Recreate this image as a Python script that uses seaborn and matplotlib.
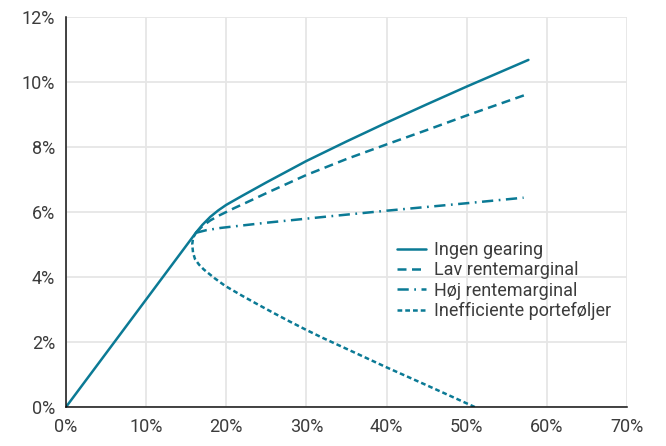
import matplotlib
matplotlib.use("Agg")
import matplotlib.pyplot as plt
import seaborn as sns
import pandas as pd
from matplotlib.ticker import FuncFormatter

# ---- data (risk %, return %) ----
ingen_x = [0.0, 16.2, 17.0, 18.0, 19.0, 20.0, 22.0, 25.0, 30.0, 35.0, 40.0, 45.0, 50.0, 57.7]
ingen_y = [0.0, 5.36, 5.60, 5.85, 6.05, 6.22, 6.50, 6.91, 7.57, 8.17, 8.75, 9.31, 9.86, 10.68]

lav_x = [16.2, 17.0, 18.0, 19.0, 20.0, 21.0, 22.5, 25.0, 30.0, 35.0, 40.0, 45.0, 50.0, 57.5]
lav_y = [5.36, 5.56, 5.74, 5.88, 6.00, 6.12, 6.29, 6.58, 7.14, 7.63, 8.08, 8.52, 8.97, 9.62]

hoej_x = [16.2, 17.5, 19.3, 25.0, 33.0, 40.0, 50.0, 57.1]
hoej_y = [5.36, 5.44, 5.51, 5.67, 5.87, 6.04, 6.27, 6.44]

ineff_x = [16.2, 15.85, 15.75, 15.85, 16.1, 16.6, 17.2, 18.5, 19.9, 22.0, 23.9, 26.0, 28.0, 30.0, 32.0, 35.0, 40.0, 45.0, 51.0]
ineff_y = [5.36, 5.20, 5.00, 4.75, 4.55, 4.38, 4.23, 3.97, 3.72, 3.42, 3.16, 2.88, 2.62, 2.37, 2.13, 1.79, 1.22, 0.67, 0.0]

labels = ["Ingen gearing", "Lav rentemarginal", "Høj rentemarginal", "Inefficiente porteføljer"]
x_ticks = [0, 10, 20, 30, 40, 50, 60, 70]
y_ticks = [0, 2, 4, 6, 8, 10, 12]

# ---- style ----
sns.set_theme(style="white")
plt.rcParams["font.family"] = ["Roboto", "DejaVu Sans"]
color = "#0b7a95"
textc = "#3c3c3c"

fig = plt.figure(figsize=(6.66, 4.46), dpi=100)
ax = fig.add_axes([66/666, 1-407/446, (627-66)/666, (407-17)/446])

lw = 1.8
series = [
    (ingen_x, ingen_y, labels[0], (None)),
    (lav_x, lav_y, labels[1], (3.6, 2.2)),
    (hoej_x, hoej_y, labels[2], (4.5, 2.2, 0.7, 2.2)),
    (ineff_x, ineff_y, labels[3], (1.9, 1.2)),
]
for xs, ys, lab, dash in series:
    df = pd.DataFrame({"x": xs, "y": ys})
    sns.lineplot(data=df, x="x", y="y", sort=False, estimator=None, ax=ax,
                 color=color, linewidth=lw, label=lab)
    if dash is not None:
        ax.lines[-1].set_dashes(dash)

ax.set_xlim(0, 70)
ax.set_ylim(0, 12)
ax.set_xticks(x_ticks)
ax.set_yticks(y_ticks)
ax.xaxis.set_major_formatter(FuncFormatter(lambda v, p: f"{v:.0f}%"))
ax.yaxis.set_major_formatter(FuncFormatter(lambda v, p: f"{v:.0f}%"))
ax.set_xlabel("")
ax.set_ylabel("")
ax.grid(True, color="#e6e6e6", linewidth=1.3)
ax.set_axisbelow(True)
for s in ["top", "right"]:
    ax.spines[s].set_visible(False)
for s in ["left", "bottom"]:
    ax.spines[s].set_color("#111111")
    ax.spines[s].set_linewidth(1.1)
ax.tick_params(axis="both", length=0, labelsize=13, colors=textc, pad=8)

leg = ax.legend(loc="upper left", bbox_to_anchor=(0.59, 0.425), frameon=False,
                prop={"size": 13}, handlelength=1.6,
                handletextpad=0.45, labelspacing=0.12,
                borderpad=0, borderaxespad=0)
for t in leg.get_texts():
    t.set_color(textc)

fig.savefig("out.png", dpi=100)
